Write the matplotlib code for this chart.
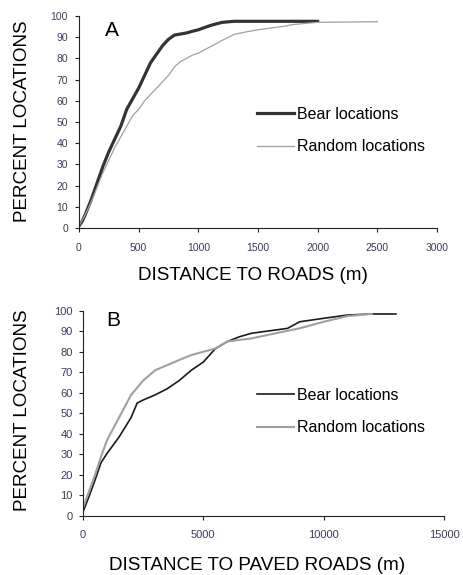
import matplotlib
matplotlib.use("Agg")
import matplotlib.pyplot as plt

plt.rcParams['font.family'] = ['Liberation Sans', 'DejaVu Sans']

# Panel A: distance to roads (m) vs cumulative percent of locations
a_bear_x = [0, 25, 50, 100, 150, 200, 250, 300, 350, 400, 450, 500, 550, 600, 650,
            700, 750, 800, 850, 900, 950, 1000, 1050, 1100, 1150, 1200, 1300, 2000]
a_bear_y = [1, 3, 6, 13, 21, 29, 36, 42, 48, 56, 61, 66, 72, 78, 82,
            86, 89, 91, 91.5, 92, 92.8, 93.5, 94.5, 95.5, 96.3, 97, 97.5, 97.5]
a_rand_x = [0, 50, 100, 150, 200, 250, 300, 350, 400, 450, 500, 550, 600, 650, 700,
            750, 800, 850, 900, 950, 1000, 1100, 1200, 1300, 1400, 1500, 1600, 1700,
            1800, 1900, 2000, 2500]
a_rand_y = [1, 6, 12, 19, 26, 32, 38, 43, 48, 53, 56, 60, 63, 66, 69,
            72, 76, 78.5, 80, 81.5, 82.5, 85.5, 88.5, 91.3, 92.5, 93.5, 94.3, 95,
            96, 96.5, 97, 97.3]

# Panel B: distance to paved roads (m)
b_bear_x = [0, 250, 500, 750, 1000, 1500, 2000, 2250, 2500, 3000, 3500, 4000, 4500,
            5000, 5500, 6000, 6500, 7000, 8000, 8500, 9000, 10000, 11000, 12000, 13000]
b_bear_y = [2, 9.5, 17.5, 26, 30.5, 38.5, 48, 55, 56.5, 59, 62, 66, 71,
            75, 81.5, 85, 87.3, 89, 90.6, 91.4, 94.6, 96.3, 97.9, 98.4, 98.4]
b_rand_x = [0, 250, 500, 750, 1000, 1500, 2000, 2500, 3000, 3500, 4000, 4500, 5000,
            5500, 6000, 7000, 8000, 9000, 10000, 11000, 12000]
b_rand_y = [4, 12, 20, 29, 37, 48, 59, 66, 71, 73.5, 76, 78.4, 80,
            81.6, 85, 86.5, 89, 91.4, 94.6, 97.4, 98.4]

tick_color = '#44385a'

fig = plt.figure(figsize=(4.64, 5.75), dpi=100)
W, H = 464, 575


def style(ax, xmax, xstep, fs, xpad, ypad):
    ax.set_ylim(0, 100)
    ax.set_xlim(0, xmax)
    ax.set_yticks(range(0, 101, 10))
    ax.set_xticks(range(0, xmax + 1, xstep))
    for s in ['top', 'right']:
        ax.spines[s].set_visible(False)
    for s in ['left', 'bottom']:
        ax.spines[s].set_color('#222222')
        ax.spines[s].set_linewidth(0.8)
    ax.tick_params(axis='both', direction='out', length=3, width=0.8,
                   color='#222222', labelcolor=tick_color, labelsize=fs)
    ax.tick_params(axis='x', pad=xpad)
    ax.tick_params(axis='y', pad=ypad)


# Panel A
ax1 = fig.add_axes([79 / W, 1 - 228 / H, (437 - 79) / W, (228 - 16) / H])
ax1.plot(a_bear_x, a_bear_y, color='#333333', lw=2.3, label='Bear locations')
ax1.plot(a_rand_x, a_rand_y, color='#a0a0a0', lw=0.9, label='Random locations')
style(ax1, 3000, 500, 7.5, 8, 5)
ax1.text(112 / W, 1 - 31 / H, 'A', transform=fig.transFigure, fontsize=15,
         ha='center', va='center')
ax1.legend(loc='center left', bbox_to_anchor=(257 / W, 1 - 130.5 / H),
           bbox_transform=fig.transFigure, frameon=False, fontsize=11.5,
           handlelength=2.3, handletextpad=0.2, labelspacing=1.1,
           borderpad=0, borderaxespad=0)
fig.text(253 / W, 1 - 275 / H, 'DISTANCE TO ROADS (m)', fontsize=13.6,
         ha='center', va='center')
fig.text(22.5 / W, 1 - 121 / H, 'PERCENT LOCATIONS', fontsize=13.6,
         ha='center', va='center', rotation=90)

# Panel B
ax2 = fig.add_axes([83 / W, 1 - 516 / H, (444 - 83) / W, (516 - 310.7) / H])
ax2.plot(b_bear_x, b_bear_y, color='#1a1a1a', lw=1.2, label='Bear locations')
ax2.plot(b_rand_x, b_rand_y, color='#a0a0a0', lw=1.5, label='Random locations')
style(ax2, 15000, 5000, 8, 7, 4.5)
ax2.text(113 / W, 1 - 320 / H, 'B', transform=fig.transFigure, fontsize=15,
         ha='center', va='center')
ax2.legend(loc='center left', bbox_to_anchor=(257 / W, 1 - 411.7 / H),
           bbox_transform=fig.transFigure, frameon=False, fontsize=11.5,
           handlelength=2.3, handletextpad=0.2, labelspacing=1.1,
           borderpad=0, borderaxespad=0)
fig.text(257 / W, 1 - 565 / H, 'DISTANCE TO PAVED ROADS (m)', fontsize=13.6,
         ha='center', va='center')
fig.text(22.5 / W, 1 - 410 / H, 'PERCENT LOCATIONS', fontsize=13.6,
         ha='center', va='center', rotation=90)

fig.savefig('out.png', dpi=100)
